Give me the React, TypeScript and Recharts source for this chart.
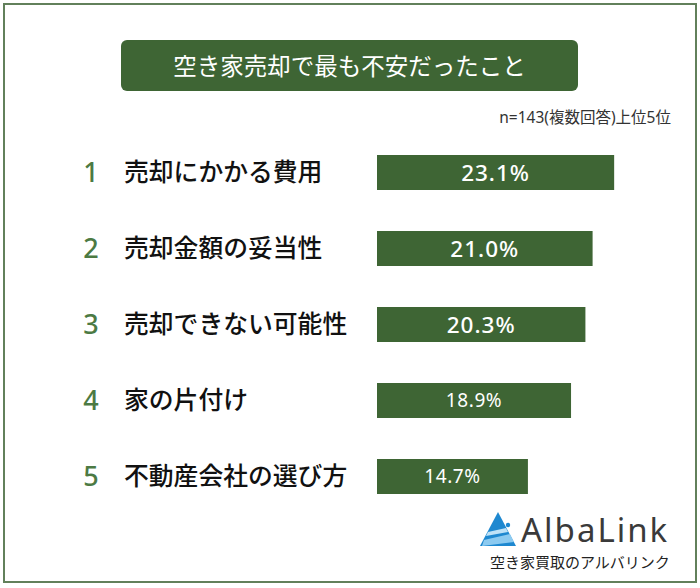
import { BarChart, Bar, XAxis, YAxis, LabelList } from "recharts";

const RANKS = ["1", "2", "3", "4", "5"];
const ITEMS = [
    "売却にかかる費用",
    "売却金額の妥当性",
    "売却できない可能性",
    "家の片付け",
    "不動産会社の選び方",
];
const SHARES = [23.1, 21.0, 20.3, 18.9, 14.7];

const GREEN = "#3e6534";
const FONT = "'Noto Sans CJK JP', 'Noto Sans', sans-serif";
const LATIN = "'Noto Sans', 'Noto Sans CJK JP', sans-serif";

const data = ITEMS.map((name, i) => ({ name, rank: RANKS[i], value: SHARES[i] }));

// rank number + label on the left of each bar
const ItemTick = (props: any) => {
    const { y, payload, index } = props;
    return (
        <g>
            <text x={91} y={y} dy={9.5} textAnchor="middle" fill="#4c7a43" fontSize={27} fontWeight={500} fontFamily={LATIN}>
                {RANKS[index]}
            </text>
            <text x={124} y={y} dy={8.5} textAnchor="start" fill="#111" fontSize={24.8} fontWeight={500} fontFamily={FONT}>
                {payload.value}
            </text>
        </g>
    );
};

const ValueLabel = (props: any) => {
    const { x, y, width, height, value, index } = props;
    const strong = index < 3;
    return (
        <text
            x={x + width / 2}
            y={y + height / 2}
            dy={strong ? 8 : 6.5}
            textAnchor="middle"
            fill="#fff"
            fontSize={strong ? 22.5 : 19}
            fontWeight={strong ? 500 : 400}
            letterSpacing={strong ? 1 : 0.6}
            fontFamily={LATIN}
        >
            {`${value.toFixed(1)}%`}
        </text>
    );
};

export default function App() {
    return (
        <div style={{ position: "absolute", left: 0, top: 0, width: 700, height: 588, background: "#fff", fontFamily: FONT }}>
            <div style={{ position: "absolute", left: 3, top: 3, width: 690, height: 576, border: "2px solid #62805b" }} />

            <div
                style={{
                    position: "absolute", left: 121, top: 40, width: 457, height: 51, background: GREEN,
                    borderRadius: 6, color: "#fff", fontSize: 23.5, lineHeight: "51px", textAlign: "center",
                }}
            >
                空き家売却で最も不安だったこと
            </div>

            <div style={{ position: "absolute", right: 29, top: 105, fontSize: 15.5, color: "#333", whiteSpace: "nowrap", fontFamily: LATIN }}>
                n=143(複数回答)上位5位
            </div>

            <div style={{ position: "absolute", left: 0, top: 0 }}>
                <BarChart
                    width={700}
                    height={588}
                    data={data}
                    layout="vertical"
                    margin={{ top: 134, right: 15, bottom: 74, left: 0 }}
                >
                    <XAxis type="number" domain={[0, 30]} hide />
                    <YAxis
                        type="category"
                        dataKey="name"
                        width={377}
                        axisLine={false}
                        tickLine={false}
                        tick={<ItemTick />}
                    />
                    <Bar dataKey="value" fill={GREEN} barSize={35} isAnimationActive={false}>
                        <LabelList dataKey="value" content={<ValueLabel />} />
                    </Bar>
                </BarChart>
            </div>

            {/* logo */}
            <svg style={{ position: "absolute", left: 478, top: 510 }} width={40} height={40} viewBox="0 0 40 40">
                <polygon points="20,2 38,36 2,36" fill="#1e88d0" />
                <polygon points="6,30 32,24 36,32 4,36" fill="#8ccaf0" />
                <polygon points="10,22 28,18 30,22 8,26" fill="#bfe2f7" />
                <circle cx={30} cy={15} r={2.2} fill="#1e88d0" />
            </svg>
            <div style={{ position: "absolute", left: 521, top: 507, fontSize: 33, color: "#3a3a3a", letterSpacing: 2, fontFamily: LATIN }}>
                AlbaLink
            </div>
            <div style={{ position: "absolute", left: 490, top: 551, fontSize: 15, color: "#222", whiteSpace: "nowrap" }}>
                空き家買取のアルバリンク
            </div>
        </div>
    );
}
